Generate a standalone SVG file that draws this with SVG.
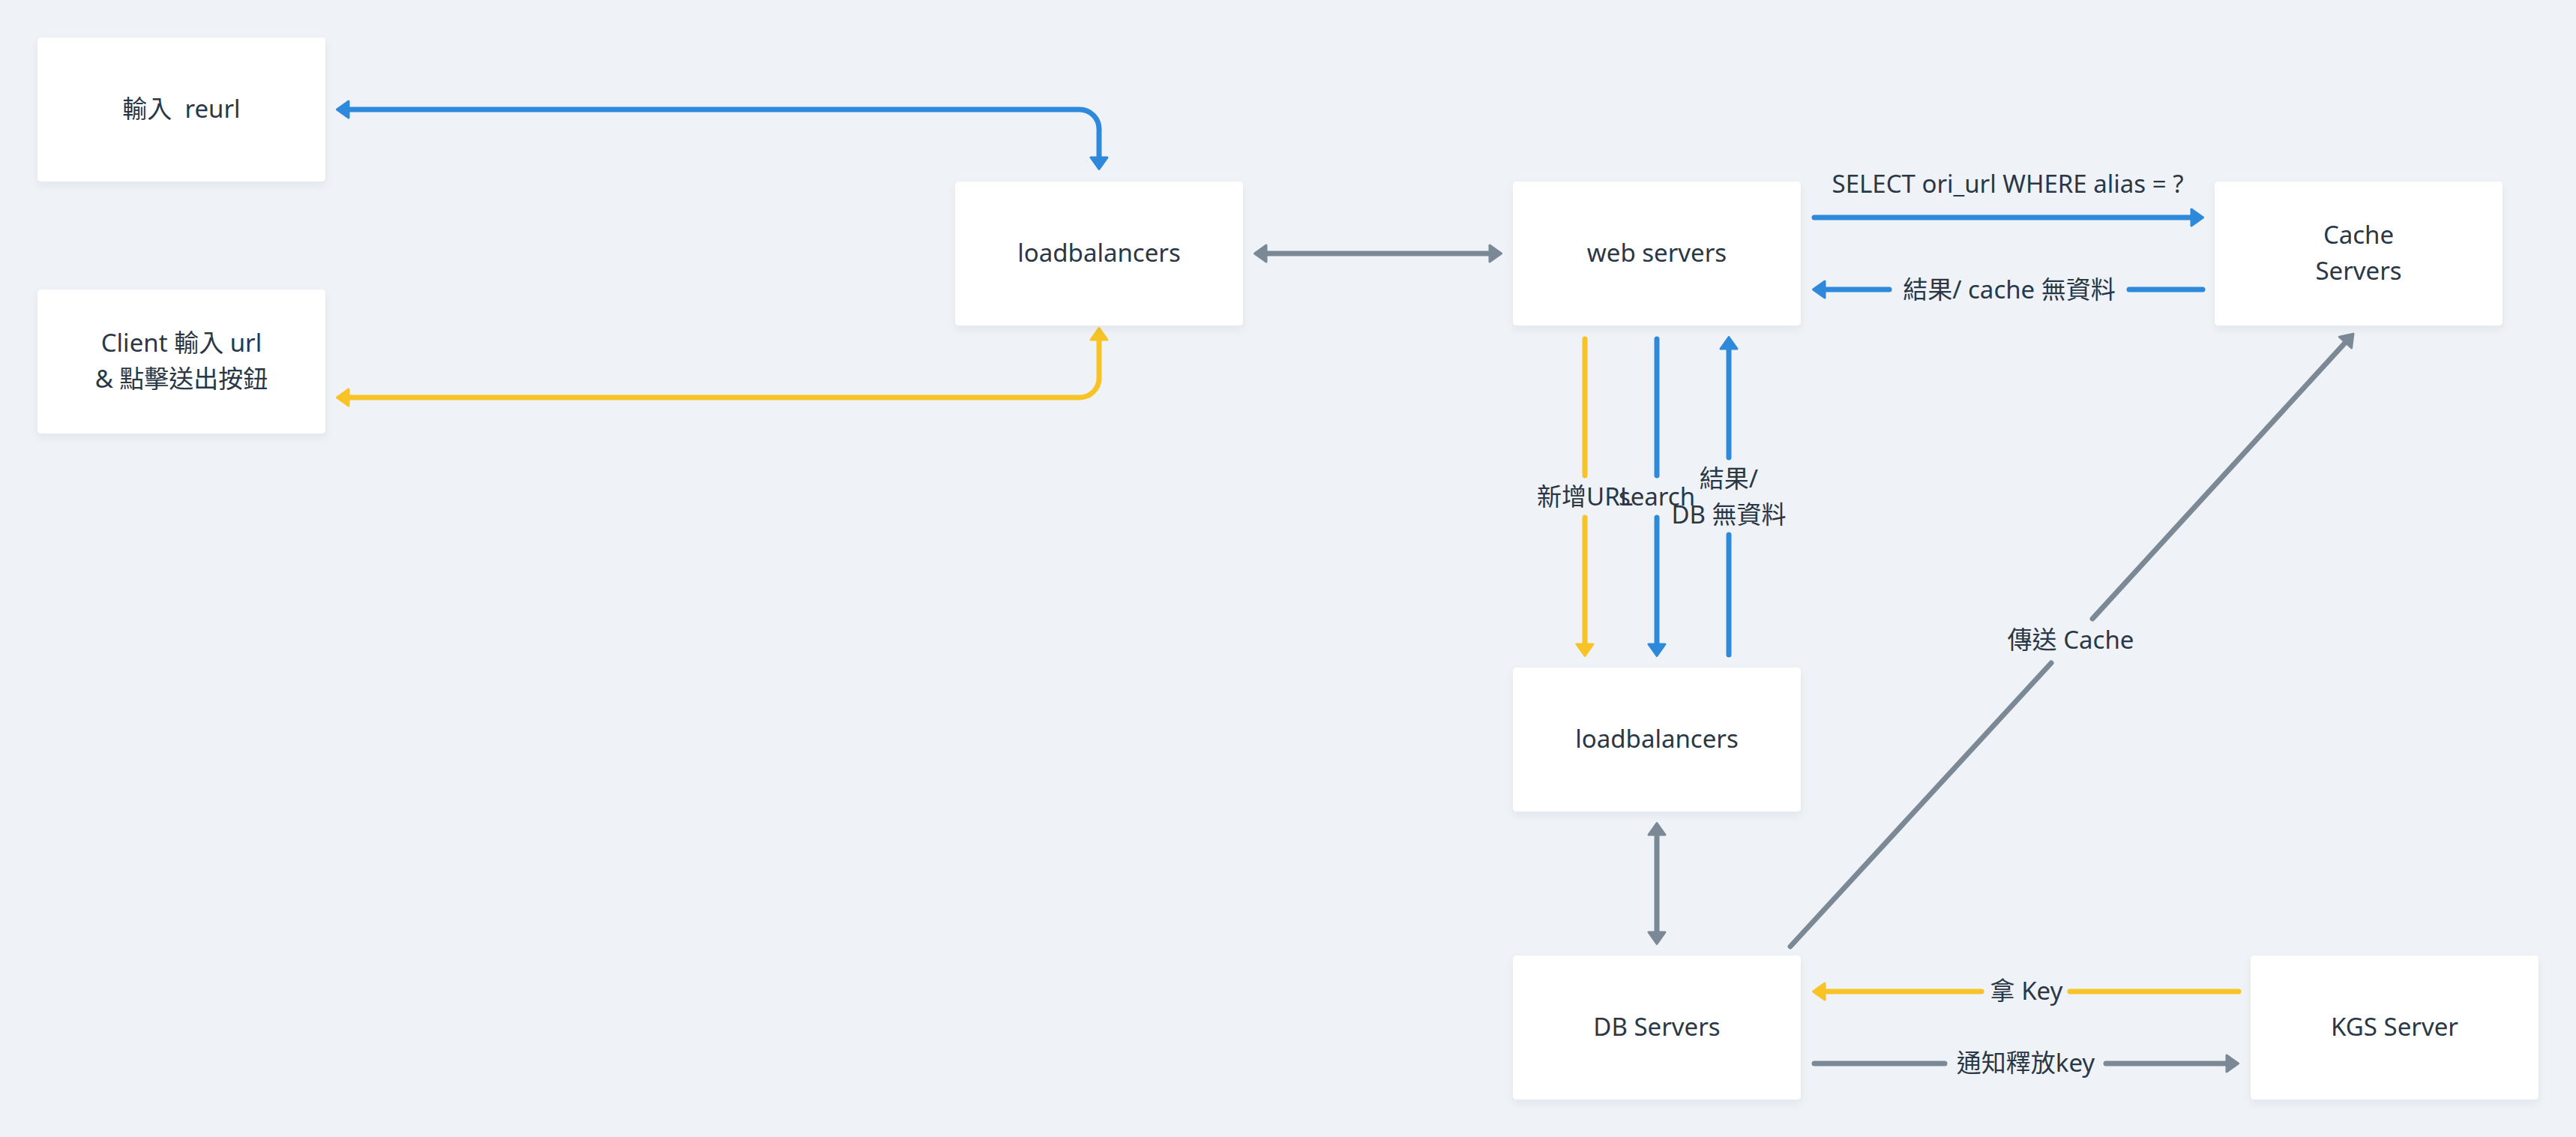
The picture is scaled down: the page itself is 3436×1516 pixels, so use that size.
<svg xmlns="http://www.w3.org/2000/svg" width="3436" height="1516" viewBox="0 0 3436 1516">
  <style>
    .node rect { fill: #ffffff; filter: url(#sh); }
    text { font-family: "Noto Sans", "Noto Sans CJK TC", sans-serif; font-size: 33px; fill: #2a3746; text-anchor: middle; }
    .c { fill: none; stroke-width: 7; stroke-linecap: round; stroke-linejoin: round; }
    .blue { stroke: #2e89db; }
    .yellow { stroke: #f8c326; }
    .grey { stroke: #7b8896; }
  </style>
  <defs>
    <filter id="sh" x="-10%" y="-10%" width="120%" height="130%">
      <feDropShadow dx="0" dy="5" stdDeviation="6" flood-color="#1c2b3a" flood-opacity="0.06"/>
    </filter>
    <marker id="ab" viewBox="0 0 22 26" markerWidth="22" markerHeight="26" refX="11" refY="13" orient="auto-start-reverse" markerUnits="userSpaceOnUse">
      <path d="M4 2 L19.5 13 L4 24 Z" fill="#2e89db" stroke="#2e89db" stroke-width="3" stroke-linejoin="round"/>
    </marker>
    <marker id="ay" viewBox="0 0 22 26" markerWidth="22" markerHeight="26" refX="11" refY="13" orient="auto-start-reverse" markerUnits="userSpaceOnUse">
      <path d="M4 2 L19.5 13 L4 24 Z" fill="#f8c326" stroke="#f8c326" stroke-width="3" stroke-linejoin="round"/>
    </marker>
    <marker id="ag" viewBox="0 0 22 26" markerWidth="22" markerHeight="26" refX="11" refY="13" orient="auto-start-reverse" markerUnits="userSpaceOnUse">
      <path d="M4 2 L19.5 13 L4 24 Z" fill="#7b8896" stroke="#7b8896" stroke-width="3" stroke-linejoin="round"/>
    </marker>
  </defs>

  <rect x="0" y="0" width="3436" height="1516" fill="#eff3f7"/>

  <g id="connectors">
    <path class="c blue" d="M458 146 H1440 A26 26 0 0 1 1466 172 V217" marker-start="url(#ab)" marker-end="url(#ab)"/>
    <path class="c yellow" d="M458 530 H1440 A26 26 0 0 0 1466 504 V446" marker-start="url(#ay)" marker-end="url(#ay)"/>
    <path class="c grey" d="M1682 338 H1994" marker-start="url(#ag)" marker-end="url(#ag)"/>

    <path class="c blue" d="M2420 290 H2930" marker-end="url(#ab)"/>
    <text x="2678" y="257">SELECT ori_url WHERE alias = ?</text>

    <path class="c blue" d="M2938 386 H2840"/>
    <path class="c blue" d="M2520 386 H2427" marker-end="url(#ab)"/>
    <text x="2680" y="398">結果/ cache 無資料</text>

    <path class="c yellow" d="M2114 452 V634"/>
    <path class="c yellow" d="M2114 690 V866" marker-end="url(#ay)"/>
    <path class="c blue" d="M2210 452 V634"/>
    <path class="c blue" d="M2210 690 V866" marker-end="url(#ab)"/>
    <path class="c blue" d="M2306 873 V713"/>
    <path class="c blue" d="M2306 610 V458" marker-end="url(#ab)"/>
    <text x="2114" y="674">新增URL</text>
    <text x="2210" y="674">search</text>
    <text x="2306" y="650">結果/</text>
    <text x="2306" y="698">DB 無資料</text>

    <path class="c grey" d="M2210 1106 V1250" marker-start="url(#ag)" marker-end="url(#ag)"/>

    <path class="c grey" d="M2388 1262 L2736 884"/>
    <path class="c grey" d="M2791 825 L3133.2 451.4" marker-end="url(#ag)"/>
    <text x="2762" y="865">傳送 Cache</text>

    <path class="c yellow" d="M2986 1322 H2761"/>
    <path class="c yellow" d="M2643 1322 H2427" marker-end="url(#ay)"/>
    <text x="2703" y="1333">拿 Key</text>

    <path class="c grey" d="M2420 1418 H2594"/>
    <path class="c grey" d="M2809 1418 H2977" marker-end="url(#ag)"/>
    <text x="2702" y="1429">通知釋放key</text>
  </g>

  <g id="node-reurl" class="node">
    <rect x="50" y="50" width="384" height="192" rx="5"/>
    <text x="242" y="157" xml:space="preserve">輸入  reurl</text>
  </g>
  <g id="node-client" class="node">
    <rect x="50" y="386" width="384" height="192" rx="5"/>
    <text x="242" y="469">Client 輸入 url</text>
    <text x="242" y="517">&amp; 點擊送出按鈕</text>
  </g>
  <g id="node-lb1" class="node">
    <rect x="1274" y="242" width="384" height="192" rx="5"/>
    <text x="1466" y="349">loadbalancers</text>
  </g>
  <g id="node-web" class="node">
    <rect x="2018" y="242" width="384" height="192" rx="5"/>
    <text x="2210" y="349">web servers</text>
  </g>
  <g id="node-cache" class="node">
    <rect x="2954" y="242" width="384" height="192" rx="5"/>
    <text x="3146" y="325">Cache</text>
    <text x="3146" y="373">Servers</text>
  </g>
  <g id="node-lb2" class="node">
    <rect x="2018" y="890" width="384" height="192" rx="5"/>
    <text x="2210" y="997">loadbalancers</text>
  </g>
  <g id="node-db" class="node">
    <rect x="2018" y="1274" width="384" height="192" rx="5"/>
    <text x="2210" y="1381">DB Servers</text>
  </g>
  <g id="node-kgs" class="node">
    <rect x="3002" y="1274" width="384" height="192" rx="5"/>
    <text x="3194" y="1381">KGS Server</text>
  </g>
</svg>
